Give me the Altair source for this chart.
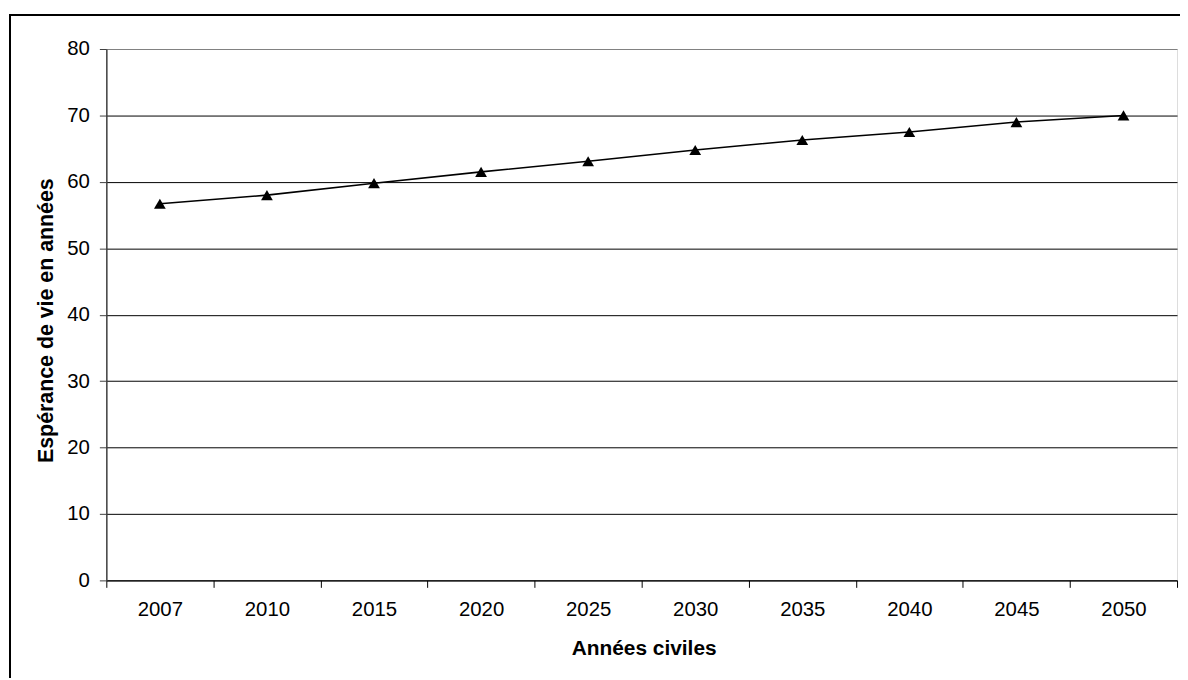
import altair as alt
import pandas as pd

years = ["2007", "2010", "2015", "2020", "2025", "2030", "2035", "2040", "2045", "2050"]
life_expectancy = [56.7, 58.0, 59.8, 61.5, 63.1, 64.8, 66.3, 67.5, 69.0, 70.0]

df = pd.DataFrame({"annee": years, "esperance": life_expectancy})

FONT = "Liberation Sans"

x_enc = alt.X(
    "annee:N",
    sort=years,
    scale=alt.Scale(paddingInner=0, paddingOuter=0),
    axis=alt.Axis(
        title="Années civiles",
        labelAngle=0,
        labelFontSize=20.5,
        labelFont=FONT,
        labelColor="black",
        labelPadding=12,
        tickBand="extent",
        tickSize=7,
        tickColor="black",
        domainColor="black",
        grid=False,
        titleFont=FONT,
        titleFontSize=21,
        titleFontWeight="bold",
        titleColor="black",
        titleBaseline="alphabetic",
        titleX=541,
        titleY=75,
        titleAnchor="middle",
    ),
)

y_enc = alt.Y(
    "esperance:Q",
    scale=alt.Scale(domain=[0, 80], nice=False),
    axis=alt.Axis(
        title="Espérance de vie en années",
        values=[0, 10, 20, 30, 40, 50, 60, 70, 80],
        labelFontSize=20.5,
        labelFont=FONT,
        labelColor="black",
        labelPadding=10,
        tickSize=7,
        tickColor="#404040",
        domainColor="#404040",
        domainWidth=1.5,
        grid=True,
        gridColor={"condition": {"test": "datum.value == 80", "value": "#808080"}, "value": "black"},
        gridWidth=1,
        titleFont=FONT,
        titleFontSize=21.5,
        titleFontWeight="bold",
        titleColor="black",
        titleBaseline="alphabetic",
        titleAngle=-90,
        titleX=-54,
        titleY=273,
        titleAnchor="middle",
    ),
)

frame = alt.Chart(df).mark_rect(fill=None, stroke="black", strokeWidth=1.5).encode(
    x=alt.value(-97), x2=alt.value(1110), y=alt.value(-34), y2=alt.value(700)
)

line = alt.Chart(df).mark_line(color="black", strokeWidth=1.6).encode(x=x_enc, y=y_enc)
points = alt.Chart(df).mark_point(
    shape="triangle-up", filled=True, color="black", opacity=1, size=140
).encode(x=x_enc, y=y_enc)

chart = (
    alt.layer(frame, line, points)
    .properties(
        width=1078,
        height=535,
        autosize=alt.AutoSizeParams(type="none"),
        padding={"left": 99, "top": 39, "right": 3, "bottom": 96},
    )
    .configure_view(stroke="#808080", strokeWidth=1.5)
    .configure(background="white")
)

chart.save("out.html", embed_options={"renderer": "svg", "actions": False})
